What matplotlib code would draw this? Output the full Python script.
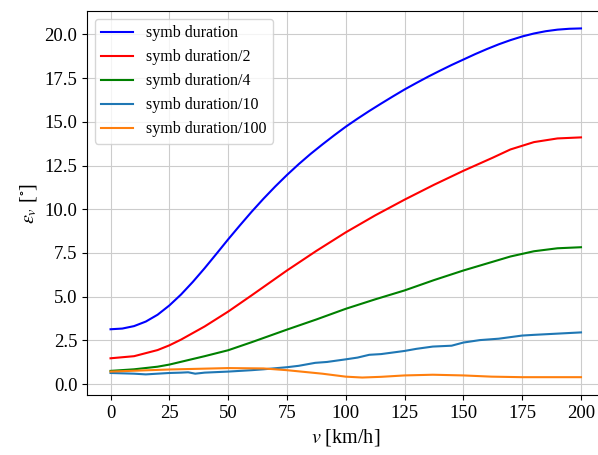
import numpy as np
import matplotlib.pyplot as plt

# speed in km/h and pointing error in degrees for each symbol duration
speed = np.arange(0, 201, 5)
err_full = [3.14, 3.18, 3.32, 3.58, 3.97, 4.5, 5.13, 5.85, 6.63, 7.45, 8.28,
            9.08, 9.86, 10.6, 11.3, 11.96, 12.58, 13.16, 13.7, 14.22, 14.72,
            15.18, 15.62, 16.04, 16.45, 16.85, 17.22, 17.58, 17.92, 18.25,
            18.56, 18.87, 19.16, 19.43, 19.67, 19.88, 20.05, 20.18, 20.27,
            20.32, 20.34]

speed_b = [0, 10, 20, 25, 30, 40, 50, 60, 75, 87.5, 100, 112.5, 125, 137.5,
           150, 162.5, 170, 180, 190, 200]
err_half = [1.48, 1.6, 1.95, 2.22, 2.55, 3.3, 4.15, 5.08, 6.5, 7.62, 8.68,
            9.65, 10.55, 11.4, 12.2, 12.95, 13.42, 13.84, 14.05, 14.11]
err_quarter = [0.76, 0.85, 1.0, 1.12, 1.28, 1.6, 1.94, 2.4, 3.12, 3.7, 4.31,
               4.85, 5.36, 5.95, 6.5, 7.0, 7.3, 7.6, 7.77, 7.83]

speed_c = [0, 5, 10, 15, 20, 25, 30, 33, 36, 40, 50, 60, 65, 75, 80, 87, 92,
           100, 105, 110, 115, 125, 130, 137, 145, 150, 157, 165, 175, 180, 200]
err_tenth = [0.64, 0.62, 0.6, 0.56, 0.6, 0.64, 0.66, 0.68, 0.6, 0.66, 0.72,
             0.8, 0.85, 0.97, 1.05, 1.22, 1.27, 1.42, 1.52, 1.68, 1.72, 1.9,
             2.02, 2.15, 2.2, 2.38, 2.52, 2.6, 2.78, 2.82, 2.96]

speed_d = [0, 25, 50, 65, 75, 90, 100, 107, 115, 125, 137, 150, 162, 175, 200]
err_hundredth = [0.72, 0.84, 0.92, 0.9, 0.8, 0.6, 0.43, 0.38, 0.42, 0.5, 0.54,
                 0.5, 0.43, 0.4, 0.4]

plt.rcParams['font.family'] = 'serif'
plt.rcParams['font.serif'] = ['Liberation Serif', 'DejaVu Serif']
plt.rcParams['mathtext.fontset'] = 'stix'

fig = plt.figure(figsize=(5.98, 4.55), dpi=100)
ax = fig.add_axes([0.1455, 0.1319, 0.8654, 0.844])

ax.plot(speed, err_full, color='blue', label='symb duration')
ax.plot(speed_b, err_half, color='red', label='symb duration/2')
ax.plot(speed_b, err_quarter, color='green', label='symb duration/4')
ax.plot(speed_c, err_tenth, color='tab:blue', label='symb duration/10')
ax.plot(speed_d, err_hundredth, color='tab:orange', label='symb duration/100')

ax.set_xlim(-10, 210)
ax.set_xticks(np.arange(0, 201, 25))
ax.set_yticks(np.arange(0, 20.1, 2.5))
ax.tick_params(labelsize=13.5)
ax.grid(True, color='#cccccc')
ax.set_axisbelow(True)
ax.set_xlabel(r'$v$ [km/h]', fontsize=14.5)
ax.set_ylabel(r'$\epsilon_v$ [$^{\circ}$]', fontsize=14.5)
ax.legend(loc='upper left', fontsize=11.5)

fig.savefig('out.png', dpi=100)
